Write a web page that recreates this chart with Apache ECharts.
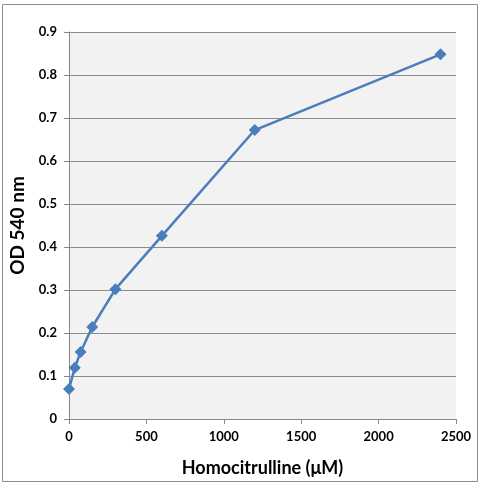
<!DOCTYPE html>
<html><head><meta charset="utf-8">
<script src="https://cdn.jsdelivr.net/npm/echarts@6/dist/echarts.min.js"></script>
<style>html,body{margin:0;padding:0;background:#fff}#c{width:481px;height:488px}</style>
</head><body><div id="c"></div>
<script>
const concentrations = [0, 37.5, 75, 150, 300, 600, 1200, 2400];
const odValues = [0.07, 0.119, 0.156, 0.214, 0.302, 0.426, 0.672, 0.848];
const xTitle = 'Homocitrulline (\u03bcM)';
const yTitle = 'OD 540 nm';

const chart = echarts.init(document.getElementById('c'));
const font = 'Lato, "Open Sans", sans-serif';
chart.setOption({
  animation: false,
  graphic: [{type:'rect', shape:{x:2.5,y:4.5,width:475,height:477}, style:{fill:'none', stroke:'#8c8c8c', lineWidth:1}, z:-1}],
  grid: {left:69, right:25, top:32, bottom:69, backgroundColor:'#f2f2f2', show:true, borderWidth:0},
  xAxis: {
    type:'value', min:0, max:2500, interval:500,
    axisLine:{show:true, onZero:false, lineStyle:{color:'#888'}},
    axisTick:{show:true, length:5, lineStyle:{color:'#888'}},
    splitLine:{show:false},
    axisLabel:{color:'#000', fontSize:13, fontWeight:'bold', fontFamily:font, margin:11,
      formatter: v => String(v)},
    name:xTitle, nameLocation:'middle', nameGap:40,
    nameTextStyle:{color:'#000', fontSize:18, fontWeight:'bold', fontFamily:font}
  },
  yAxis: {
    type:'value', min:0, max:0.9, interval:0.1,
    axisLine:{show:true, lineStyle:{color:'#888'}},
    axisTick:{show:true, length:5, lineStyle:{color:'#888'}},
    splitLine:{show:true, lineStyle:{color:'#8c8c8c', width:1}},
    axisLabel:{color:'#000', fontSize:13, fontWeight:'bold', fontFamily:font, margin:12,
      formatter: v => (Math.round(v*10)/10).toString()},
    name:yTitle, nameLocation:'middle', nameGap:42, nameRotate:90,
    nameTextStyle:{color:'#000', fontSize:19, fontWeight:'bold', fontFamily:font}
  },
  series: [{
    type:'line',
    data: concentrations.map((c,i)=>[c, odValues[i]]),
    symbol:'diamond', symbolSize:12,
    lineStyle:{color:'#4a7ebb', width:2.5},
    itemStyle:{color:'#4a7ebb'}
  }]
});
</script></body></html>
